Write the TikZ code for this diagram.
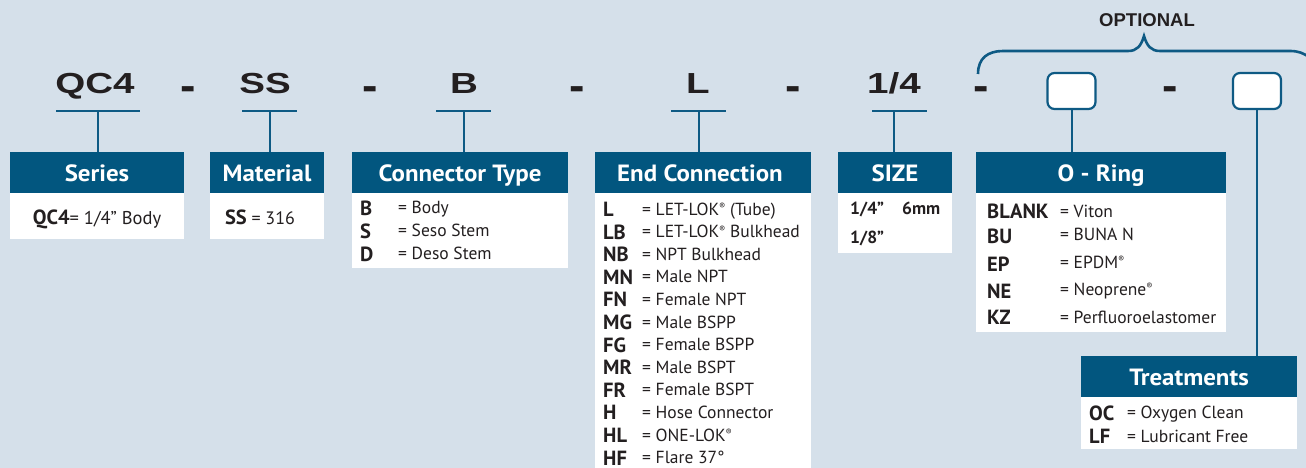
\documentclass[tikz,border=0pt]{standalone}
\usepackage{fontspec}
\setmainfont{PT Sans}
\newfontfamily\codefont[FakeStretch=1.33]{Liberation Sans}
\newfontfamily\optfont{Liberation Sans}
\newfontfamily\hdrfont[FakeStretch=1.06]{PT Sans}
\definecolor{bg}{HTML}{D5E0EA}
\definecolor{hblue}{HTML}{02567F}
\definecolor{lblue}{HTML}{0E5A84}
\definecolor{ink}{HTML}{231F20}
\newcommand{\regm}{\raisebox{0.6ex}{\fontsize{9}{9}\selectfont ®}}
\begin{document}
\begin{tikzpicture}[x=1pt,y=-1pt,
  panel/.style={inner sep=0pt,outer sep=0pt,anchor=north west},
  hdrbox/.style={panel,fill=hblue,minimum height=41pt},
  bodybox/.style={panel,fill=white},
  hdrtext/.style={anchor=base,inner sep=0pt,text=white,font=\hdrfont\fontsize{23.5}{23.5}\selectfont\bfseries},
  code/.style={anchor=base,inner sep=0pt,text=ink,font=\codefont\fontsize{29}{29}\selectfont\bfseries},
  key/.style={anchor=base west,inner sep=0pt,text=ink,font=\fontsize{20.5}{20.5}\selectfont\bfseries},
  val/.style={anchor=base west,inner sep=0pt,text=ink,font=\fontsize{17.5}{17.5}\selectfont},
  conn/.style={draw=lblue,line width=2pt},
  optbox/.style={draw=lblue,line width=2.2pt,fill=white,rounded corners=7pt,minimum width=48pt,minimum height=36pt,inner sep=0pt},
]
\fill[bg] (0,0) rectangle (1306,468);
\useasboundingbox (0,0) rectangle (1306,468);

% ---- top code line
\node[code] (cQ) at (95,94) {QC4};
\node[code] (cS) at (265,94) {SS};
\node[code] (cB) at (464,94) {B};
\node[code] (cL) at (698,94) {L};
\node[code] (cZ) at (894,94) {1/4};
\foreach \x [count=\i] in {188,370,577,793,981,1170}
  \node[code] (d\i) at (\x,100.5) {\scalebox{1.2}[1.5]{-}};
\node[optbox] (o1) at (1071.5,91) {};
\node[optbox] (o2) at (1257,91) {};
\node[anchor=base,inner sep=0pt,text=ink,font=\optfont\bfseries\fontsize{18.5}{18.5}\selectfont] (opt) at (1147,27) {OPTIONAL};
\draw[lblue,line width=2.6pt] (978,74) .. controls (978,58) and (988,51) .. (1003,51) -- (1128,51) .. controls (1137,51) and (1141,46) .. (1144,36) .. controls (1147,46) and (1151,51) .. (1160,51) -- (1290,51) .. controls (1298,51) and (1304,53) .. (1310,58);

% ---- panels
\node[hdrbox,minimum width=174pt] (hSer) at (10,152) {};
\node[bodybox,minimum width=174pt,minimum height=46pt] (bSer) at (10,193) {};
\node[hdrbox,minimum width=114pt] (hMat) at (210,152) {};
\node[bodybox,minimum width=114pt,minimum height=46pt] (bMat) at (210,193) {};
\node[hdrbox,minimum width=216pt] (hCon) at (352,152) {};
\node[bodybox,minimum width=216pt,minimum height=75pt] (bCon) at (352,193) {};
\node[hdrbox,minimum width=216pt] (hEnd) at (595,152) {};
\node[bodybox,minimum width=216pt,minimum height=285pt] (bEnd) at (595,193) {};
\node[hdrbox,minimum width=114pt] (hSiz) at (838,152) {};
\node[bodybox,minimum width=114pt,minimum height=60pt] (bSiz) at (838,193) {};
\node[hdrbox,minimum width=250pt] (hOr) at (976,152) {};
\node[bodybox,minimum width=250pt,minimum height=139pt] (bOr) at (976,193) {};
\node[hdrbox,minimum width=216pt] (hTr) at (1081,356) {};
\node[bodybox,minimum width=216pt,minimum height=52pt] (bTr) at (1081,397) {};

\node[hdrtext] (tSer) at (97,181) {Series};
\node[hdrtext] (tMat) at (267,181) {Material};
\node[hdrtext] (tCon) at (460,181) {Connector Type};
\node[hdrtext] (tEnd) at (700,181) {End Connection};
\node[hdrtext] (tSiz) at (895,181) {SIZE};
\node[hdrtext] (tOr) at (1101,181) {O - Ring};
\node[hdrtext] (tTr) at (1189,385) {Treatments};

% ---- connectors
\coordinate (uQ) at (98,111);
\coordinate (uS) at (269.5,111);
\coordinate (uB) at (463.5,111);
\coordinate (uL) at (698.5,111);
\coordinate (uZ) at (894,111);
\draw[conn] ([xshift=-42pt]uQ) -- ([xshift=42pt]uQ);
\draw[conn] ([xshift=-27.5pt]uS) -- ([xshift=27.5pt]uS);
\draw[conn] ([xshift=-27.5pt]uB) -- ([xshift=27.5pt]uB);
\draw[conn] ([xshift=-27.5pt]uL) -- ([xshift=27.5pt]uL);
\draw[conn] ([xshift=-22pt]uZ) -- ([xshift=33pt]uZ);
\draw[conn] (uQ) -- (uQ |- hSer.north);
\draw[conn] (uS) -- (uS |- hMat.north);
\draw[conn] (uB) -- (uB |- hCon.north);
\draw[conn] (uL) -- (uL |- hEnd.north);
\draw[conn] (uZ) -- (uZ |- hSiz.north);
\draw[conn] (o1.south) -- (o1.south |- hOr.north);
\draw[conn] (o2.south) -- (o2.south |- hTr.north);

% ---- body texts
\node[anchor=base,inner sep=0pt,text=ink,font=\fontsize{18.5}{18.5}\selectfont] (vSer) at (97,224) {{\fontsize{20.5}{20.5}\selectfont\bfseries QC4}= 1/4” Body};
\node[anchor=base,inner sep=0pt,text=ink,font=\fontsize{18}{18}\selectfont] (vMat) at (260,224) {{\fontsize{20.5}{20.5}\selectfont\bfseries SS} = 316};

\foreach \k/\v [count=\i from 0] in {B/{= Body},S/{= Seso Stem},D/{= Deso Stem}}{
  \node[key] (ck\i) at (360,215+23*\i) {\k};
  \node[val] (cv\i) at (398,213+23*\i) {\v};
}
\foreach \k/\v [count=\i from 0] in {L/{= LET-LOK\regm{} (Tube)},LB/{= LET-LOK\regm{} Bulkhead},NB/{= NPT Bulkhead},MN/{= Male NPT},FN/{= Female NPT},MG/{= Male BSPP},FG/{= Female BSPP},MR/{= Male BSPT},FR/{= Female BSPT},H/{= Hose Connector},HL/{= ONE-LOK\regm},HF/{= Flare 37°}}{
  \node[key] (ek\i) at (603,216.5+22.6*\i) {\k};
  \node[val] (ev\i) at (642,215+22.6*\i) {\v};
}
\node[key,font=\fontsize{17.5}{17.5}\selectfont\bfseries] (s1) at (850,214) {1/4”};
\node[key,font=\fontsize{17.5}{17.5}\selectfont\bfseries] (s2) at (902,214) {6mm};
\node[key,font=\fontsize{17.5}{17.5}\selectfont\bfseries] (s3) at (850,243) {1/8”};

\foreach \k/\v/\yk/\yv [count=\i] in {BLANK/{= Viton}/218/217,BU/{= BUNA N}/243/240,EP/{= EPDM\regm}/271/268,NE/{= Neoprene\regm}/298/295,KZ/{= Perfluoroelastomer}/324/323}{
  \node[key] (ok\i) at (987,\yk) {\k};
  \node[val] (ov\i) at (1060,\yv) {\v};
}
\foreach \k/\v/\yk/\yv [count=\i] in {OC/{= Oxygen Clean}/420/418,LF/{= Lubricant Free}/443/442}{
  \node[key] (tk\i) at (1089,\yk) {\k};
  \node[val] (tv\i) at (1127,\yv) {\v};
}
\end{tikzpicture}
\end{document}
